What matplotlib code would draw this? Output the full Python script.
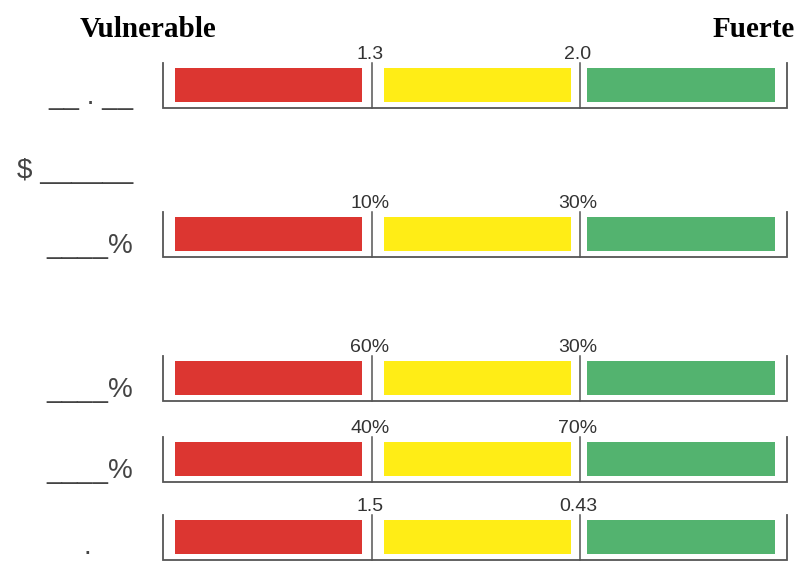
import matplotlib.pyplot as plt

# thresholds shown over the two dividers, one pair per row
thresholds = [["1.3", "2.0"], ["10%", "30%"], ["60%", "30%"], ["40%", "70%"], ["1.5", "0.43"]]
row_labels = ["__ . __", "____%", "____%", "____%", "."]
extra_label = "$ ______"
heading_left = "Vulnerable"
heading_right = "Fuerte"

segment_left = [175, 384, 587]
segment_width = [187, 187, 188]
segment_colors = ["#DC3631", "#FFED16", "#53B36F"]
dividers = [372, 580]

bar_tops = [68, 217, 361, 442, 520]
label_x = [133, 133, 133, 133, 91]
bar_h = 34

fig = plt.figure(figsize=(7.99, 5.61), dpi=100)
ax = fig.add_axes([0, 0, 1, 1])
ax.set_xlim(0, 799)
ax.set_ylim(561, 0)
ax.axis("off")

line_col = "#555555"

for i, top in enumerate(bar_tops):
    yc = top + bar_h / 2
    ax.barh([yc] * 3, segment_width, left=segment_left, height=bar_h,
            color=segment_colors, edgecolor="none")
    base = top + bar_h + 6
    frame_top = top - 5
    # frame: left/right verticals, baseline, dividers
    ax.plot([163, 163, 787, 787], [frame_top, base, base, frame_top],
            color=line_col, lw=1.3, solid_joinstyle="miter")
    for dx, lab in zip(dividers, thresholds[i]):
        ax.plot([dx, dx], [frame_top, base], color=line_col, lw=1.1)
        ax.text(dx - 2, top - 9, lab, ha="center", va="baseline",
                fontsize=14, color="#333333", family="Liberation Sans")
    if i == len(bar_tops) - 1:
        # last row sits at the bottom edge, only its dot is visible
        ax.text(label_x[i], 560, row_labels[i], ha="right", va="bottom",
                fontsize=20, color="#444444", family="Liberation Sans")
    else:
        ax.text(label_x[i], base - 4, row_labels[i], ha="right", va="baseline",
                fontsize=20, color="#444444", family="Liberation Sans")

ax.text(133, 178, extra_label, ha="right", va="baseline",
        fontsize=20, color="#444444", family="Liberation Sans")

ax.text(148, 37, heading_left, ha="center", va="baseline", fontsize=21,
        fontweight="bold", family="Liberation Serif", color="black")
ax.text(795, 37, heading_right, ha="right", va="baseline", fontsize=21,
        fontweight="bold", family="Liberation Serif", color="black")

fig.savefig("out.png", dpi=100)
